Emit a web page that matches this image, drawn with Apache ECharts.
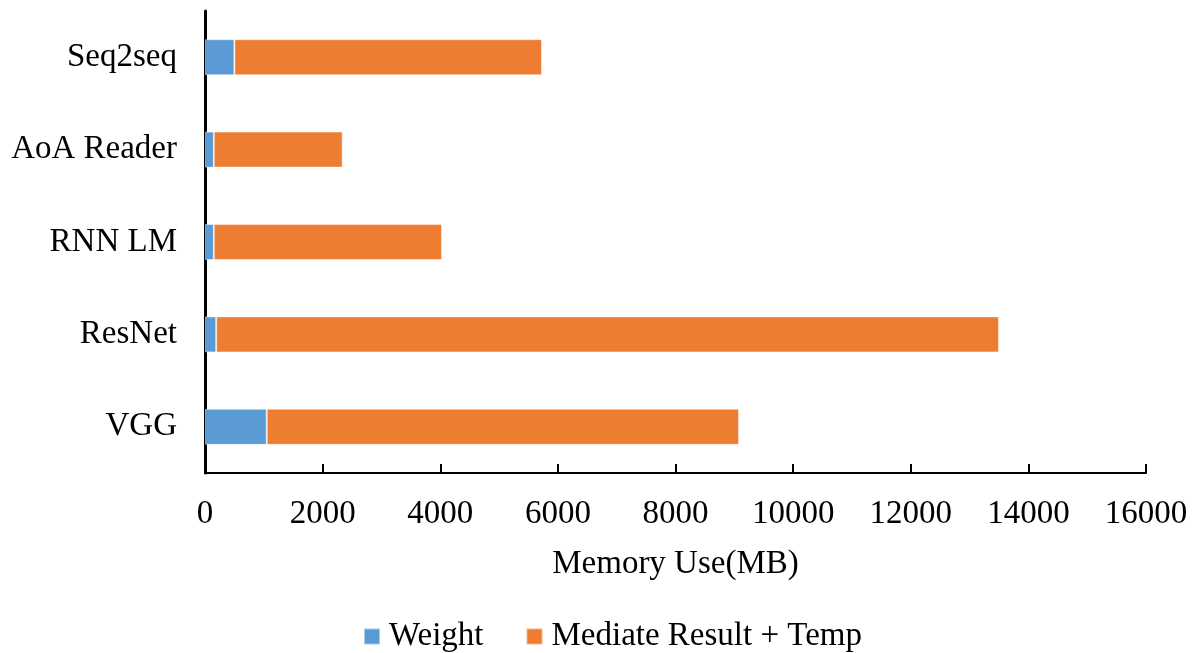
<!DOCTYPE html>
<html>
<head>
<meta charset="utf-8">
<style>
  html, body { margin: 0; padding: 0; background: #fff; }
  #chart { width: 1197px; height: 653px; }
</style>
<script src="https://cdn.jsdelivr.net/npm/echarts@6/dist/echarts.min.js"></script>
</head>
<body>
<div id="chart"></div>
<script>
// Models, bottom to top on the category axis
const models = ['VGG', 'ResNet', 'RNN LM', 'AoA Reader', 'Seq2seq'];
// Memory used by weights (MB)
const weightMB = [1050, 190, 150, 150, 500];
// Memory used by intermediate results and temporaries (MB)
const mediateMB = [8030, 13310, 3880, 2190, 5230];
// Memory axis ticks
const xMin = 0;
const xMax = 16000;
const xStep = 2000;

const FONT = '"Liberation Serif", "DejaVu Serif", serif';
const FS = 33;

const chart = echarts.init(document.getElementById('chart'), null, { renderer: 'canvas' });

chart.setOption({
  animation: false,
  backgroundColor: '#ffffff',
  textStyle: { fontFamily: FONT, color: '#000' },
  grid: { left: 205, right: 51, top: 11, bottom: 180, containLabel: false },
  legend: {
    top: 615,
    left: 358,
    itemWidth: 16,
    itemHeight: 16,
    itemGap: 42,
    icon: 'rect',
    textStyle: { fontFamily: FONT, fontSize: FS, color: '#000', padding: [0, 0, 0, 4] },
    data: ['Weight', 'Mediate Result + Temp']
  },
  xAxis: {
    type: 'value',
    min: xMin,
    max: xMax,
    interval: xStep,
    name: 'Memory Use(MB)',
    nameLocation: 'middle',
    nameGap: 75,
    nameTextStyle: { fontFamily: FONT, fontSize: FS, color: '#000' },
    axisLine: { show: true, lineStyle: { color: '#000', width: 2 } },
    axisTick: { show: true, inside: true, length: 9, lineStyle: { color: '#000', width: 2 } },
    axisLabel: {
      fontFamily: FONT, fontSize: FS, color: '#000', margin: 25,
      formatter: (v) => String(v)
    },
    splitLine: { show: false }
  },
  yAxis: {
    type: 'category',
    data: models,
    axisLine: { show: true, lineStyle: { color: '#000', width: 3 } },
    axisTick: { show: false },
    axisLabel: { fontFamily: FONT, fontSize: FS, color: '#000', margin: 28 },
    splitLine: { show: false }
  },
  series: [
    {
      name: 'Weight',
      type: 'bar',
      stack: 'mem',
      barWidth: 36,
      data: weightMB,
      itemStyle: { color: '#5B9BD5', borderColor: 'rgba(255,255,255,0.45)', borderWidth: 1 }
    },
    {
      name: 'Mediate Result + Temp',
      type: 'bar',
      stack: 'mem',
      barWidth: 36,
      data: mediateMB,
      itemStyle: { color: '#ED7D31', borderColor: 'rgba(255,255,255,0.45)', borderWidth: 1 }
    }
  ]
});
</script>
</body>
</html>
